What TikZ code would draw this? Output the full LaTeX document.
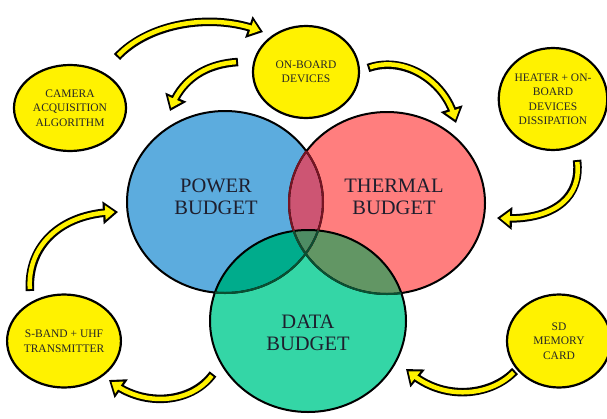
\documentclass[tikz,border=0pt]{standalone}
\usepackage{fontspec}
\setmainfont{Liberation Serif}
\usetikzlibrary{arrows.meta,shapes.geometric,bending}

\definecolor{powerblue}{RGB}{92,172,222}
\definecolor{thermalred}{RGB}{255,126,126}
\definecolor{datagreen}{RGB}{52,214,166}
\definecolor{ovBR}{RGB}{205,85,115}
\definecolor{ovBG}{RGB}{0,172,140}
\definecolor{ovRG}{RGB}{98,150,100}
\definecolor{ovAll}{RGB}{78,140,100}
\definecolor{edgered}{RGB}{120,20,35}
\definecolor{edgegreen}{RGB}{10,80,50}
\definecolor{labelink}{RGB}{30,30,45}

\tikzset{
  item/.style={ellipse, draw=black, line width=2.2pt, fill=yellow, align=center,
    inner sep=0pt, text=black!85, font=\fontsize{11.5}{14.5}\selectfont},
  biglabel/.style={align=center, text=labelink, font=\fontsize{20.5}{22}\selectfont},
  flowout/.style={line width=8.5pt, black, line cap=butt,
    -{Triangle[length=15pt,width=22pt,flex]}},
  flowin/.style={line width=4.5pt, yellow, line cap=butt, shorten <=2pt, shorten >=3.3pt,
    -{Triangle[length=9.5pt,width=14pt,flex]}},
}
% two-pass block arrow: black outline, yellow body
\newcommand\flowarrow[1]{\draw[flowout] #1; \draw[flowin] #1;}

\begin{document}
\begin{tikzpicture}[x=1pt,y=-1pt]
\useasboundingbox (0,0) rectangle (607,418);
\fill[white] (0,0) rectangle (607,418);

% budget ellipses
\coordinate (P) at (225,202);
\coordinate (T) at (387,203);
\coordinate (D) at (308,321);
\def\rx{98pt}\def\ry{91pt}
\tikzset{ring/.style={x radius=\rx, y radius=\ry}}

\fill[powerblue]  (P) ellipse[ring];
\fill[thermalred] (T) ellipse[ring];
\fill[datagreen]  (D) ellipse[ring];
\begin{scope}\clip (P) ellipse[ring]; \fill[ovBR] (T) ellipse[ring];\end{scope}
\begin{scope}\clip (T) ellipse[ring]; \fill[ovRG] (D) ellipse[ring];\end{scope}
\begin{scope}\clip (P) ellipse[ring]; \fill[ovBG] (D) ellipse[ring];\end{scope}
\begin{scope}\clip (P) ellipse[ring]; \clip (T) ellipse[ring]; \fill[ovAll] (D) ellipse[ring];\end{scope}

\draw[line width=2pt] (P) ellipse[ring] (T) ellipse[ring] (D) ellipse[ring];
\begin{scope}\clip (T) ellipse[ring]; \draw[edgered, line width=2pt] (P) ellipse[ring];\end{scope}
\begin{scope}\clip (P) ellipse[ring]; \draw[edgered, line width=2pt] (T) ellipse[ring];\end{scope}
\begin{scope}\clip (D) ellipse[ring];
  \draw[edgegreen, line width=2pt] (P) ellipse[ring] (T) ellipse[ring];\end{scope}

\node[biglabel] (powerlbl)   at (216,197) {POWER\\BUDGET};
\node[biglabel] (thermallbl) at (394,197) {THERMAL\\BUDGET};
\node[biglabel] (datalbl)    at (308,333) {DATA\\BUDGET};

% satellite items
\node[item, minimum width=112pt, minimum height=86pt] (cam)  at (70,108)  {CAMERA\\ACQUISITION\\ALGORITHM};
\node[item, minimum width=106pt, minimum height=92pt] (obd)  at (306,72)  {ON-BOARD\\DEVICES};
\node[item, minimum width=106pt, minimum height=102pt] (heat) at (553,99) {HEATER + ON-\\BOARD\\DEVICES\\DISSIPATION};
\node[item, minimum width=108pt, minimum height=93pt] (tx)   at (64,341)  {S-BAND + UHF\\TRANSMITTER};
\node[item, minimum width=104pt, minimum height=93pt] (sd)   at (559,341) {SD\\MEMORY\\CARD};

% arrow ends
\coordinate (a1s) at (117,57);  \coordinate (a1e) at (263,32);
\coordinate (a2s) at (238,62);  \coordinate (a2e) at (170,111);
\coordinate (a3s) at (368,68);  \coordinate (a3e) at (456,123);
\coordinate (a4s) at (577,160); \coordinate (a4e) at (497,218);
\coordinate (a5s) at (515,371); \coordinate (a5e) at (406,369);
\coordinate (a6s) at (213,374); \coordinate (a6e) at (109,380);
\coordinate (a7s) at (30,291);  \coordinate (a7e) at (118,212);

\flowarrow{(a1s) .. controls (150,22) and (215,12) .. (a1e)}
\flowarrow{(a2s) .. controls (205,64) and (180,80) .. (a2e)}
\flowarrow{(a3s) .. controls (405,55) and (448,82) .. (a3e)}
\flowarrow{(a4s) .. controls (582,200) and (550,222) .. (a4e)}
\flowarrow{(a5s) .. controls (490,397) and (440,402) .. (a5e)}
\flowarrow{(a6s) .. controls (190,405) and (140,407) .. (a6e)}
\flowarrow{(a7s) .. controls (27,245) and (62,212) .. (a7e)}
\end{tikzpicture}
\end{document}
